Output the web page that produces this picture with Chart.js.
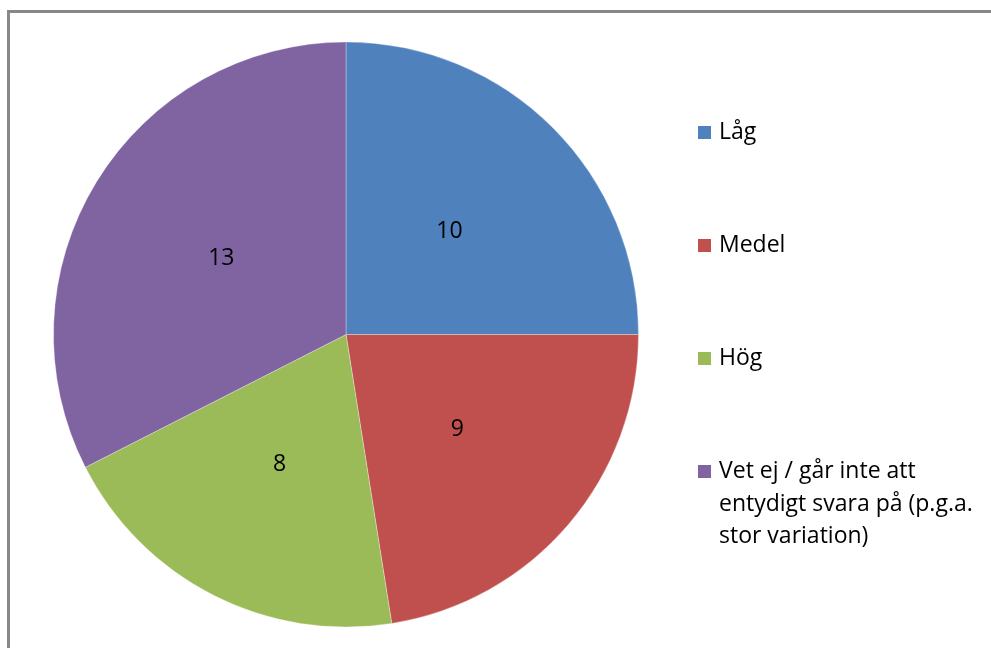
<!DOCTYPE html>
<html>
<head>
<meta charset="utf-8">
<script src="https://cdn.jsdelivr.net/npm/chart.js@4/dist/chart.umd.min.js"></script>
<style>
  html, body { margin: 0; padding: 0; background: #fff; overflow: hidden; }
  #wrap { position: relative; width: 991px; height: 648px; overflow: hidden; }
  #frame { position: absolute; left: 7px; top: 10px; width: 2000px; height: 2000px; border: 3px solid #888888; box-sizing: border-box; pointer-events: none; }
  canvas { position: absolute; left: 0; top: 0; }
</style>
</head>
<body>
<div id="wrap">
  <div id="frame"></div>
  <canvas id="c" width="991" height="648"></canvas>
</div>
<script>
const categories = ["Låg", "Medel", "Hög", "Vet ej / går inte att entydigt svara på (p.g.a. stor variation)"];
const legendLines = [["Låg"], ["Medel"], ["Hög"], ["Vet ej / går inte att", "entydigt svara på (p.g.a.", "stor variation)"]];
const values = [10, 9, 8, 13];
const colors = ["#4F81BD", "#C0504D", "#9BBB59", "#8064A2"];

const FONT = '"Open Sans", "Liberation Sans", sans-serif';

const sliceLabels = {
  id: 'sliceLabels',
  afterDatasetsDraw(chart) {
    const ctx = chart.ctx;
    const meta = chart.getDatasetMeta(0);
    ctx.save();
    ctx.font = '23px ' + FONT;
    ctx.fillStyle = '#000';
    ctx.textAlign = 'center';
    ctx.textBaseline = 'middle';
    meta.data.forEach((arc, i) => {
      const p = arc.tooltipPosition();
      ctx.fillText(String(chart.data.datasets[0].data[i]), p.x, p.y);
    });
    ctx.restore();
  }
};

const sideLegend = {
  id: 'sideLegend',
  afterDraw(chart, args, opts) {
    const ctx = chart.ctx;
    const ds = chart.data.datasets[0];
    ctx.save();
    ctx.font = opts.fontSize + 'px ' + FONT;
    ctx.textBaseline = 'alphabetic';
    ctx.textAlign = 'left';
    legendLines.forEach((lines, i) => {
      const base = opts.firstBaseline + i * opts.itemGap;
      ctx.fillStyle = ds.backgroundColor[i];
      ctx.fillRect(opts.boxX, base - opts.boxSize, opts.boxSize, opts.boxSize);
      ctx.fillStyle = '#000';
      lines.forEach((t, j) => {
        ctx.fillText(t, opts.textX, base + j * opts.lineHeight);
      });
    });
    ctx.restore();
  }
};

new Chart(document.getElementById('c'), {
  type: 'pie',
  data: {
    labels: categories,
    datasets: [{
      data: values,
      backgroundColor: colors,
      borderColor: 'rgba(255,255,255,0.3)',
      borderWidth: 1
    }]
  },
  options: {
    responsive: false,
    animation: false,
    layout: { padding: { left: 53, top: 41, right: 352, bottom: 20 } },
    plugins: {
      legend: { display: false },
      tooltip: { enabled: false },
      sideLegend: { boxX: 698, boxSize: 13, textX: 719, firstBaseline: 139, itemGap: 113, lineHeight: 32.5, fontSize: 23 }
    }
  },
  plugins: [sliceLabels, sideLegend]
});
</script>
</body>
</html>
